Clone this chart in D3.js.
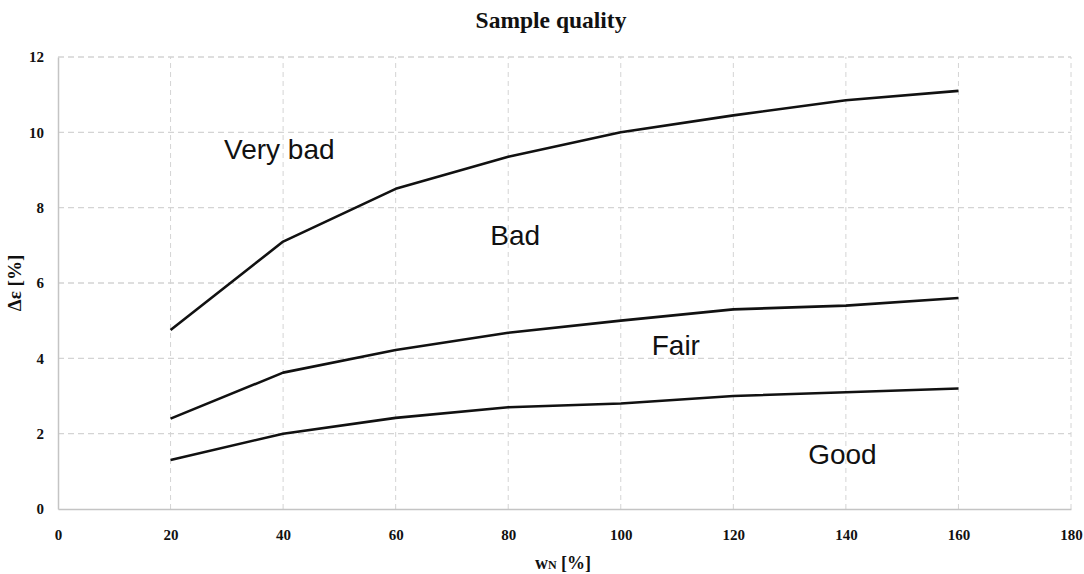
<!DOCTYPE html>
<html>
<head>
<meta charset="utf-8">
<script src="https://cdn.jsdelivr.net/npm/d3@7"></script>
<style>
  html, body { margin: 0; padding: 0; background: #fff; }
  svg { display: block; }
  .tick text { font-family: "Liberation Serif", "Times New Roman", serif; font-weight: bold; font-size: 15px; fill: #111; }
  .zone { font-family: "Liberation Sans", Arial, sans-serif; font-size: 28px; fill: #111; }
</style>
</head>
<body>
<svg id="chart" width="1084" height="574"></svg>
<script>
// Water content w_N [%] at which the boundaries are evaluated
const wN = [20, 40, 60, 80, 100, 120, 140, 160];
// Boundary curves of Δε [%] between quality classes
const badLimit  = [4.75, 7.1, 8.5, 9.35, 10.0, 10.45, 10.85, 11.1];   // Bad / Very bad
const fairLimit = [2.4, 3.62, 4.22, 4.68, 5.0, 5.3, 5.4, 5.6];        // Fair / Bad
const goodLimit = [1.3, 2.0, 2.42, 2.7, 2.8, 3.0, 3.1, 3.2];          // Good / Fair
const xTicks = [0, 20, 40, 60, 80, 100, 120, 140, 160, 180];
const yTicks = [0, 2, 4, 6, 8, 10, 12];
// Zone labels placed at data coordinates
const zoneNames = ["Very bad", "Bad", "Fair", "Good"];
const zoneX = [29.5, 76.8, 105.5, 133.3];
const zoneY = [9.3, 7.0, 4.1, 1.2];

const svg = d3.select("#chart");
const x = d3.scaleLinear().domain([0, 180]).range([58, 1071]);
const y = d3.scaleLinear().domain([0, 12]).range([509, 57]);

// Grid
const grid = svg.append("g");
grid.selectAll("line.h").data(yTicks.filter(d => d > 0)).join("line")
  .attr("x1", x(0)).attr("x2", x(180))
  .attr("y1", d => y(d)).attr("y2", d => y(d))
  .attr("stroke", "#d4d4d4").attr("stroke-width", 1.3).attr("stroke-dasharray", "6,4");
grid.selectAll("line.v").data(xTicks.filter(d => d > 0)).join("line")
  .attr("x1", d => x(d)).attr("x2", d => x(d))
  .attr("y1", y(0)).attr("y2", y(12))
  .attr("stroke", "#d4d4d4").attr("stroke-width", 1).attr("stroke-dasharray", "5,4");

// Axes
const xAxis = svg.append("g").attr("transform", `translate(0,${y(0)})`)
  .call(d3.axisBottom(x).tickValues(xTicks).tickSize(0).tickPadding(20));
xAxis.select(".domain").attr("stroke", "#c4c4c4").attr("stroke-width", 1.5);
const yAxis = svg.append("g").attr("transform", `translate(${x(0)},0)`)
  .call(d3.axisLeft(y).tickValues(yTicks).tickSize(0).tickPadding(14));
yAxis.select(".domain").attr("stroke", "#c4c4c4").attr("stroke-width", 1.5);

// Boundary curves
const line = d3.line().x((d, i) => x(wN[i])).y(d => y(d));
svg.selectAll("path.curve").data([badLimit, fairLimit, goodLimit]).join("path")
  .attr("class", "curve")
  .attr("d", line)
  .attr("fill", "none").attr("stroke", "#111").attr("stroke-width", 2.6)
  .attr("stroke-linejoin", "round");

// Zone labels
svg.selectAll("text.zone").data(zoneNames).join("text")
  .attr("class", "zone")
  .attr("x", (d, i) => x(zoneX[i])).attr("y", (d, i) => y(zoneY[i]))
  .text(d => d);

// Title
svg.append("text").attr("x", 551).attr("y", 28).attr("text-anchor", "middle")
  .style("font-family", '"Liberation Serif", "Times New Roman", serif')
  .style("font-weight", "bold").style("font-size", "23.5px").style("fill", "#111")
  .text("Sample quality");

// Axis titles
svg.append("text").attr("transform", "translate(21,283) rotate(-90)").attr("text-anchor", "middle")
  .style("font-family", '"Liberation Serif", "Times New Roman", serif')
  .style("font-weight", "bold").style("font-size", "19px").style("fill", "#111")
  .text("Δε [%]");
const xt = svg.append("text").attr("x", 563).attr("y", 569).attr("text-anchor", "middle")
  .style("font-family", '"Liberation Serif", "Times New Roman", serif')
  .style("font-weight", "bold").style("font-size", "18px").style("fill", "#111");
xt.append("tspan").text("w");
xt.append("tspan").style("font-size", "12px").text("N");
xt.append("tspan").text(" [%]");
</script>
</body>
</html>
